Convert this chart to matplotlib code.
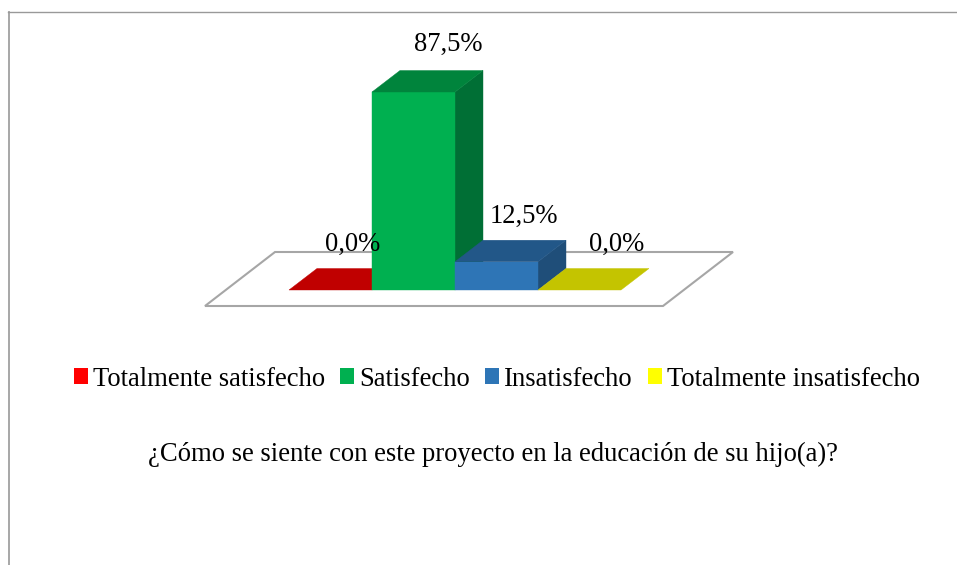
import matplotlib
matplotlib.use("Agg")
import matplotlib.pyplot as plt
from matplotlib.patches import Polygon, Patch
from matplotlib.lines import Line2D

categories = ["Totalmente satisfecho", "Satisfecho", "Insatisfecho", "Totalmente insatisfecho"]
values = [0.0, 87.5, 12.5, 0.0]
value_labels = ["0,0%", "87,5%", "12,5%", "0,0%"]
title = "¿Cómo se siente con este proyecto en la educación de su hijo(a)?"
front_colors = ["#FF0000", "#00B050", "#2E75B6", "#FFFF00"]
top_colors = ["#C00000", "#00843C", "#225788", "#C4C400"]
side_colors = ["#A00000", "#006F35", "#1F4E79", "#A0A000"]

W, H = 957, 565
FS = 19.2
plt.rcParams["font.family"] = ["Liberation Serif", "DejaVu Serif"]
fig = plt.figure(figsize=(W / 100, H / 100), dpi=100)
fig.patch.set_facecolor("white")

# Outer frame (open at right and bottom)
fig.add_artist(Line2D([8.7 / W, 8.7 / W], [0, 1 - 11.5 / H], color="#A0A0A0", lw=1.3))
fig.add_artist(Line2D([8 / W, 1], [1 - 11.5 / H, 1 - 11.5 / H], color="#999999", lw=1.0))

# Axes: category units on x (one bar = 83 px), percent on y (87.5 = 198 px)
ax = fig.add_axes([289 / W, 1 - 290 / H, 332 / W, 198 / H])
ax.set_xlim(0, 4)
ax.set_ylim(0, 87.5)
ax.axis("off")

px = 332 / 4            # pixels per category
py = 198 / 87.5         # pixels per percent
dx, dy = 28 / px, 21.5 / py   # bar depth

# Floor
fl, fr, fb = -84 / px, 374 / px, -16 / py
bx, by = 70 / px, 54 / py
ax.add_patch(Polygon([(fl, fb), (fr, fb), (fr + bx, fb + by), (fl + bx, fb + by)],
                     closed=True, fc="white", ec="#A6A6A6", lw=1.5, clip_on=False, zorder=1))

# Bars
for i, v in enumerate(values):
    z = 2 + i
    x0, x1 = i, i + 1
    if v > 0:
        ax.add_patch(Polygon([(x1, 0), (x1 + dx, dy), (x1 + dx, v + dy), (x1, v)],
                             closed=True, fc=side_colors[i], ec=side_colors[i], lw=0.3, clip_on=False, zorder=z))
        ax.add_patch(Polygon([(x0, 0), (x1, 0), (x1, v), (x0, v)],
                             closed=True, fc=front_colors[i], ec=front_colors[i], lw=0.3, clip_on=False, zorder=z))
    ax.add_patch(Polygon([(x0, v), (x1, v), (x1 + dx, v + dy), (x0 + dx, v + dy)],
                         closed=True, fc=top_colors[i], ec=top_colors[i], lw=0.3, clip_on=False, zorder=z))

# Value labels
label_dx = [64 / px, 76 / px, 69 / px, 79 / px]
label_dy = [24.5 / py, 26 / py, 24 / py, 24.5 / py]
for i, (v, t) in enumerate(zip(values, value_labels)):
    ax.text(i + label_dx[i], v + dy + label_dy[i], t, ha="center", va="center",
            fontsize=FS, color="black", zorder=10, clip_on=False)

# Legend
handles = [Patch(fc=c, ec="none", label=l) for c, l in zip(front_colors, categories)]
fig.legend(handles=handles, ncol=4, loc="center", bbox_to_anchor=(497 / W, 1 - 379 / H),
           frameon=False, fontsize=FS, handlelength=0.525, handleheight=0.525,
           handletextpad=0.19, columnspacing=0.575, borderpad=0, borderaxespad=0)

fig.text(493 / W, 1 - 454 / H, title, ha="center", va="center", fontsize=FS, color="black")

fig.savefig("out.png", dpi=100)
